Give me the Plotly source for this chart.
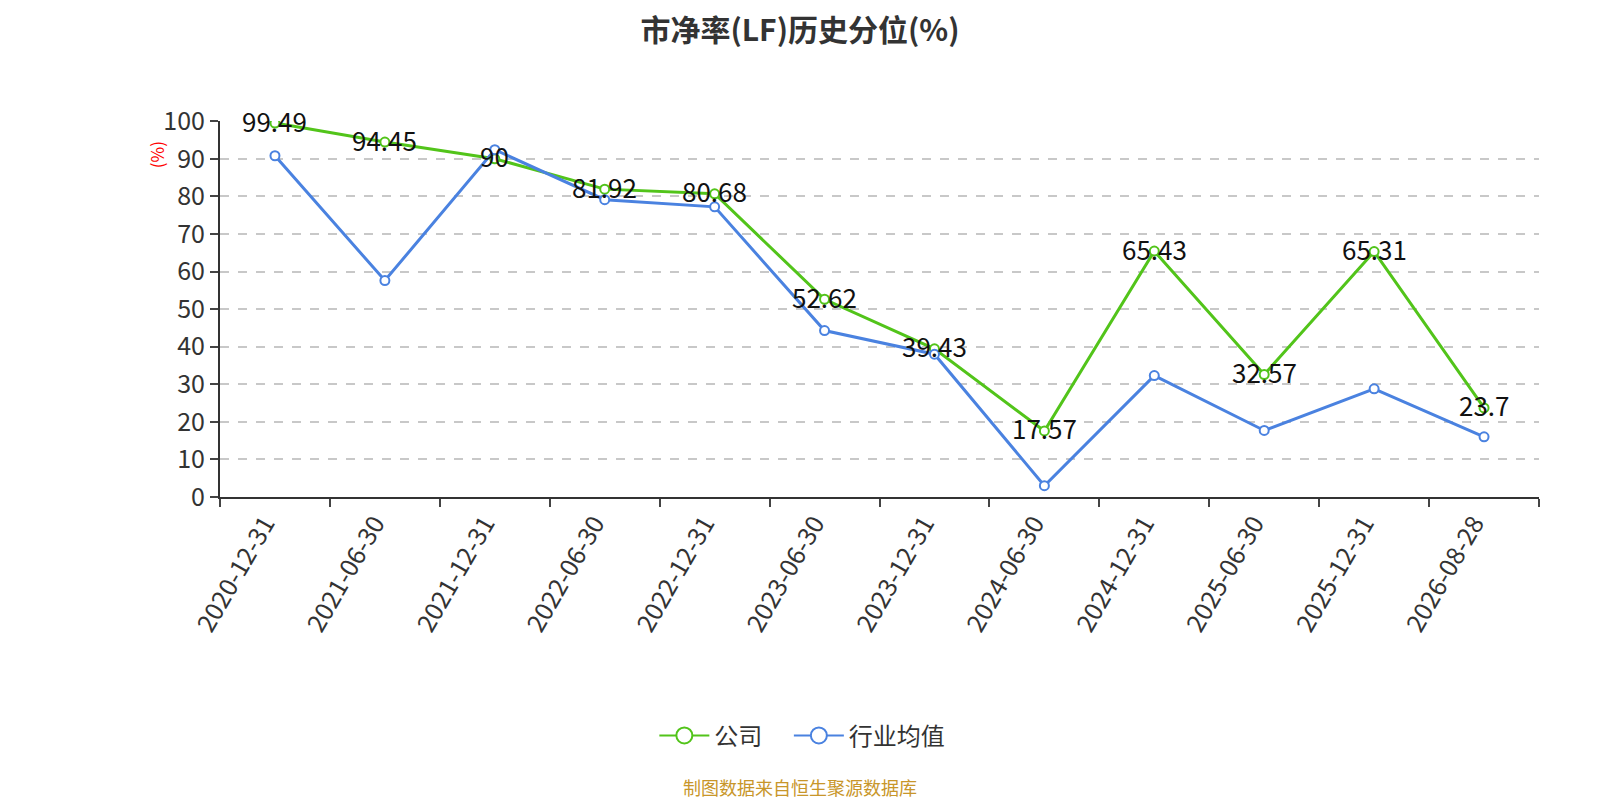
import plotly.graph_objects as go

dates = ["2020-12-31", "2021-06-30", "2021-12-31", "2022-06-30", "2022-12-31", "2023-06-30",
         "2023-12-31", "2024-06-30", "2024-12-31", "2025-06-30", "2025-12-31", "2026-08-28"]
company = [99.49, 94.45, 90, 81.92, 80.68, 52.62, 39.43, 17.57, 65.43, 32.57, 65.31, 23.7]
industry = [90.8, 57.6, 92.4, 79.1, 77.2, 44.3, 38.0, 3.0, 32.3, 17.7, 28.8, 16.0]

GREEN = "#52c41a"
BLUE = "#4a82e0"
FONT = "Noto Sans CJK SC, Microsoft YaHei, sans-serif"

fig = go.Figure()

# trailing no-break spaces widen the gap between the two legend entries
for name, legend_name, values, color in [
    ("公司", "公司\u00a0\u00a0\u00a0\u00a0", company, GREEN),
    ("行业均值", "行业均值", industry, BLUE),
]:
    fig.add_trace(go.Scatter(
        x=dates, y=values, name=name, mode="lines+markers", showlegend=False,
        line=dict(color=color, width=3),
        marker=dict(symbol="circle", size=9, color="white", line=dict(color=color, width=2)),
    ))
    # legend-only entry with a bigger hollow circle, like the original legend
    fig.add_trace(go.Scatter(
        x=[None], y=[None], name=legend_name, mode="lines+markers",
        line=dict(color=color, width=2),
        marker=dict(symbol="circle", size=20, color="white", line=dict(color=color, width=2)),
    ))

# data labels for the company series
for d, v in zip(dates, company):
    fig.add_annotation(x=d, y=v, text=f"{v:g}", showarrow=False, yshift=3,
                       font=dict(size=26, color="#111", family=FONT))

# the page body keeps an 8px margin, so the figure is 8px smaller than the window
fig.update_layout(
    width=1592, height=792,
    template="simple_white",
    font=dict(family=FONT, color="#333"),
    title=dict(text="<b>市净率(LF)历史分位(%)</b>", x=0.4975, xanchor="center",
               y=0.985, yanchor="top", font=dict(size=30, color="#333")),
    margin=dict(l=212, r=61, t=113, b=303),
    legend=dict(orientation="h", xref="container", yref="container",
                x=0.406, xanchor="left", y=0.081, yanchor="middle",
                font=dict(size=24, color="#333"), itemwidth=50),
    plot_bgcolor="white",
    showlegend=True,
)

fig.update_xaxes(
    type="category", range=[-0.5, len(dates) - 0.5], tickangle=-60,
    tickson="boundaries", ticks="outside", ticklabelshift=-10,
    ticklen=8, tickwidth=2, showline=True, linecolor="#333", linewidth=2,
    tickfont=dict(size=25, color="#333"), showgrid=False,
)
fig.update_yaxes(
    range=[0, 100.05], tickvals=list(range(0, 101, 10)), ticks="outside", ticklen=8,
    tickwidth=2, showline=True, linecolor="#333", linewidth=2,
    tickfont=dict(size=25, color="#333"),
    showgrid=True, gridcolor="#c8c8c8", griddash="dash", gridwidth=1.5,
    zeroline=False,
)

# axis name sits near the top of the axis, rotated
fig.add_annotation(text="(%)", xref="paper", yref="paper", x=-0.0586, y=0.951,
                   textangle=-90, showarrow=False,
                   font=dict(size=17, color="red", family=FONT))

fig.add_annotation(text="制图数据来自恒生聚源数据库", xref="paper", yref="paper",
                   x=0.4397, y=-0.772, showarrow=False, yanchor="middle",
                   font=dict(size=18, color="#c8962a", family=FONT))

fig.write_html("out.html")
